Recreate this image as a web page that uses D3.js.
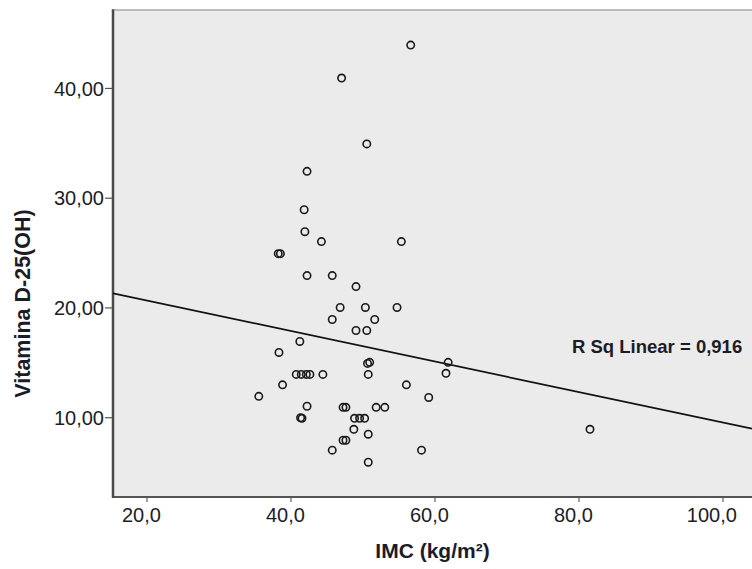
<!DOCTYPE html>
<html><head><meta charset="utf-8">
<script src="https://cdn.jsdelivr.net/npm/d3@7"></script>
<style>body{margin:0;background:#fff} svg{display:block}</style>
</head><body><svg id="c" width="752" height="569"></svg>
<script>
// ---- data ----
const imc  = [56.7,47.1,50.6,42.3,41.9,42.0,44.3,55.4,38.3,38.6,42.3,45.8,49.1,46.9,50.4,54.8,45.8,51.7,49.1,50.6,41.3,38.4,50.7,51.0,61.9,40.8,41.5,42.2,42.7,44.5,50.8,61.6,38.9,56.1,35.6,59.2,42.3,47.3,47.7,51.9,53.1,41.4,41.6,48.9,49.6,50.3,48.8,50.8,47.3,47.7,45.8,58.2,50.8,81.6];
const vitD = [43.9,40.9,34.9,32.4,28.9,26.9,26.0,26.0,24.9,24.9,22.9,22.9,21.9,20.0,20.0,20.0,18.9,18.9,17.9,17.9,16.9,15.9,14.9,15.0,15.0,13.9,13.9,13.9,13.9,13.9,13.9,14.0,12.95,12.95,11.9,11.8,11.0,10.9,10.9,10.9,10.9,9.95,9.9,9.9,9.9,9.9,8.9,8.45,7.9,7.9,7.0,7.0,5.9,8.9];
const xTicks = [20,40,60,80,100];
const yTicks = [10,20,30,40];
const fitIntercept = 23.42;
const fitSlope = -0.139;
const rSqLabel = "R Sq Linear = 0,916";
const rSqPos = [79.1, 15.85];
const xTitle = "IMC (kg/m²)";
const yTitle = "Vitamina D-25(OH)";

// ---- layout ----
const font = "'Liberation Sans', Arial, sans-serif";
const txt = "#1c1c28";
const L = 113, R = 752, T = 10, B = 497;
const x = d3.scaleLinear().domain([15.35, 104.1]).range([L, R]);
const y = d3.scaleLinear().domain([2.73, 47.1]).range([B, T]);

const svg = d3.select("#c");
svg.append("rect").attr("width",752).attr("height",569).attr("fill","#fff");
svg.append("defs").append("clipPath").attr("id","pc")
  .append("rect").attr("x",L).attr("y",T).attr("width",R-L).attr("height",B-T);

// plot background
svg.append("rect").attr("x",L).attr("y",T).attr("width",R-L).attr("height",B-T)
  .attr("fill","#ebebeb");

// axes
const fmtX = d => d.toFixed(1).replace(".", ",");
const fmtY = d => d.toFixed(2).replace(".", ",");

const gx = svg.append("g").attr("transform",`translate(0,${B})`)
  .call(d3.axisBottom(x).tickValues(xTicks).tickFormat(fmtX).tickSize(5).tickPadding(4));
gx.select(".domain").remove();
gx.selectAll(".tick line").attr("stroke","#666").attr("stroke-width",1.2);
gx.selectAll(".tick text").attr("font-family",font).attr("font-size",20).attr("fill",txt)
  .attr("text-anchor","end").attr("dy","0.78em");
// align decimal comma on tick
gx.selectAll(".tick text").each(function(){
  const t = d3.select(this);
  const s = t.text();
  const probe = svg.append("text").attr("font-family",font).attr("font-size",20).text(s.slice(s.indexOf(",")));
  const wTail = probe.node().getComputedTextLength();
  probe.text(",");
  const wc = probe.node().getComputedTextLength();
  probe.remove();
  t.attr("x", wTail - wc/2);
});

const gy = svg.append("g").attr("transform",`translate(${L},0)`)
  .call(d3.axisLeft(y).tickValues(yTicks).tickFormat(fmtY).tickSize(8).tickPadding(1));
gy.select(".domain").remove();
gy.selectAll(".tick line").attr("stroke","#555").attr("stroke-width",1.2);
gy.selectAll(".tick text").attr("font-family",font).attr("font-size",20).attr("fill",txt)
  .attr("dy","0.36em");

// frame
svg.append("line").attr("x1",L).attr("x2",R).attr("y1",T).attr("y2",T)
  .attr("stroke","#a8a8a8").attr("stroke-width",1.5);
svg.append("line").attr("x1",L).attr("x2",R).attr("y1",B).attr("y2",B)
  .attr("stroke","#555").attr("stroke-width",2);
svg.append("line").attr("x1",L).attr("x2",L).attr("y1",T-0.75).attr("y2",B+1)
  .attr("stroke","#4a4a4a").attr("stroke-width",2.5);

// fit line
const xd = x.domain();
svg.append("line").attr("clip-path","url(#pc)")
  .attr("x1",x(xd[0])).attr("y1",y(fitIntercept + fitSlope*xd[0]))
  .attr("x2",x(xd[1])).attr("y2",y(fitIntercept + fitSlope*xd[1]))
  .attr("stroke","#111").attr("stroke-width",1.7);

// points
svg.append("g").attr("clip-path","url(#pc)").selectAll("circle")
  .data(imc.map((v,i)=>[v,vitD[i]])).join("circle")
  .attr("cx",d=>x(d[0])).attr("cy",d=>y(d[1])).attr("r",3.7)
  .attr("fill","none").attr("stroke","#1a1a1a").attr("stroke-width",1.6);

// annotation
svg.append("text").attr("x",x(rSqPos[0])).attr("y",y(rSqPos[1]))
  .attr("font-family",font).attr("font-weight","bold").attr("font-size",18.5)
  .attr("fill",txt).text(rSqLabel);

// titles
svg.append("text").attr("x",(L+R)/2).attr("y",558).attr("text-anchor","middle")
  .attr("font-family",font).attr("font-weight","bold").attr("font-size",21)
  .attr("fill",txt).text(xTitle);
svg.append("text").attr("transform",`translate(30,${(T+B)/2+50}) rotate(-90)`)
  .attr("text-anchor","middle")
  .attr("font-family",font).attr("font-weight","bold").attr("font-size",21.5)
  .attr("fill",txt).text(yTitle);
</script></body></html>
